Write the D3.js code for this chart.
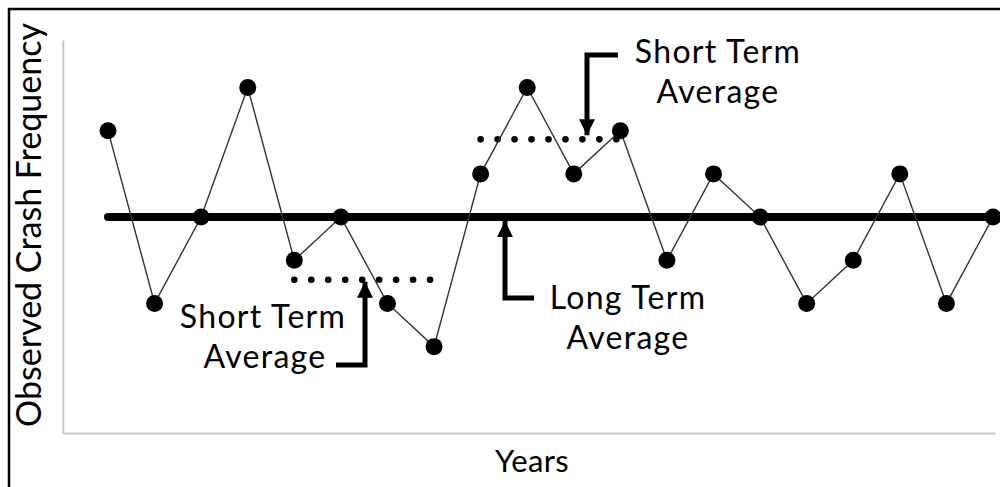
<!DOCTYPE html>
<html><head><meta charset="utf-8">
<script src="https://cdn.jsdelivr.net/npm/d3@7"></script>
<style>html,body{margin:0;padding:0;background:#fff;overflow:hidden}</style>
</head><body>
<svg id="c" width="1000" height="487"></svg>
<script>
// ---- data ----
const years = d3.range(20); // 20 years, indices 0..19
const crashes = [6, 2, 4, 7, 3, 4, 2, 1, 5, 7, 5, 6, 3, 5, 4, 2, 3, 5, 2, 4];
const longTermAverage = [4];
const shortTermStart = [4, 8];
const shortTermEnd = [7, 11];
const shortTermValue = [2.55, 5.8];
const axisTitles = ["Years", "Observed Crash Frequency"];
const noteLines = [["Short Term", "Average"], ["Short Term", "Average"], ["Long Term", "Average"]];

// ---- layout ----
const svg = d3.select("#c");
const FONT = "Lato, 'Open Sans', sans-serif";
const x = d3.scaleLinear().domain([0, 19]).range([108, 993]);
const y = d3.scaleLinear().domain([-1, 8.1]).range([433, 40]);

// outer frame
svg.append("rect").attr("x", 9).attr("y", 9).attr("width", 1010).attr("height", 500)
  .attr("fill", "none").attr("stroke", "#000").attr("stroke-width", 2.5);

// axes (no ticks)
const xAxis = d3.axisBottom(d3.scaleLinear().domain([-0.97, 19.04]).range([x(-0.97), x(19.04)]))
  .tickValues([]).tickSizeOuter(0);
const yAxis = d3.axisLeft(y).tickValues([]).tickSizeOuter(0);
svg.append("g").attr("transform", `translate(0,${y(-1)})`).call(xAxis)
  .select(".domain").attr("stroke", "#c8c8c8").attr("stroke-width", 2);
svg.append("g").attr("transform", `translate(${x(-0.97)},0)`).call(yAxis)
  .select(".domain").attr("stroke", "#c8c8c8").attr("stroke-width", 2);

// axis titles
svg.append("text").attr("x", 532).attr("y", 472).attr("text-anchor", "middle")
  .attr("font-family", FONT).attr("font-size", 31).attr("letter-spacing", 0.3).attr("fill", "#000").text(axisTitles[0]);
svg.append("text").attr("transform", "translate(41,225) rotate(-90)").attr("text-anchor", "middle")
  .attr("font-family", FONT).attr("font-size", 34).attr("fill", "#000").text(axisTitles[1]);

// long term average line
svg.append("line")
  .attr("x1", x(0)).attr("x2", x(19.3))
  .attr("y1", y(longTermAverage[0])).attr("y2", y(longTermAverage[0]))
  .attr("stroke", "#000").attr("stroke-width", 8).attr("stroke-linecap", "round");

// short term dotted lines (drawn as dots)
shortTermValue.forEach((v, i) => {
  const x1 = x(shortTermStart[i]), x2 = x(shortTermEnd[i]) - 4;
  svg.append("g").selectAll("circle").data(d3.range(9)).join("circle")
    .attr("cx", k => x1 + k * (x2 - x1) / 8).attr("cy", y(v)).attr("r", 3.3).attr("fill", "#000");
});

// series line
const line = d3.line().x((d, i) => x(years[i])).y(d => y(d));
svg.append("path").datum(crashes).attr("d", line)
  .attr("fill", "none").attr("stroke", "#333").attr("stroke-width", 1.4);
svg.selectAll("circle.pt").data(crashes).join("circle").attr("class", "pt")
  .attr("cx", (d, i) => x(years[i])).attr("cy", d => y(d)).attr("r", 8.5).attr("fill", "#000");

// arrows
const defs = svg.append("defs");
defs.append("marker").attr("id", "ah").attr("viewBox", "0 0 10 10").attr("refX", 10).attr("refY", 5)
  .attr("markerWidth", 3.2).attr("markerHeight", 3.2).attr("markerUnits", "strokeWidth").attr("orient", "auto")
  .append("path").attr("d", "M0,0 L10,5 L0,10 Z").attr("fill", "#000");

function elbow(pts) {
  svg.append("path").attr("d", d3.line()(pts)).attr("fill", "none").attr("stroke", "#000")
    .attr("stroke-width", 5).attr("stroke-linejoin", "miter").attr("marker-end", "url(#ah)");
}
// left short term: foot -> up to dotted line
elbow([[336, 365], [365, 365], [365, y(shortTermValue[0]) + 2]]);
// right short term: top -> down to dotted line
elbow([[618, 55], [587, 55], [587, y(shortTermValue[1]) - 4]]);
// long term: foot -> up to thick line
elbow([[534, 298], [505, 298], [505, y(longTermAverage[0]) + 4]]);

// annotation texts
function note(lines, cx, y0, anchor) {
  const t = svg.append("text").attr("font-family", FONT).attr("font-size", 32).attr("letter-spacing", 1.3)
    .attr("fill", "#000").attr("text-anchor", anchor);
  lines.forEach((l, i) => t.append("tspan").attr("x", cx[i]).attr("y", y0 + i * 40).text(l));
}
note(noteLines[0], [263, 265], 328, "middle");
note(noteLines[1], [718, 718], 63, "middle");
note(noteLines[2], [628, 628], 309, "middle");
</script>
</body></html>
